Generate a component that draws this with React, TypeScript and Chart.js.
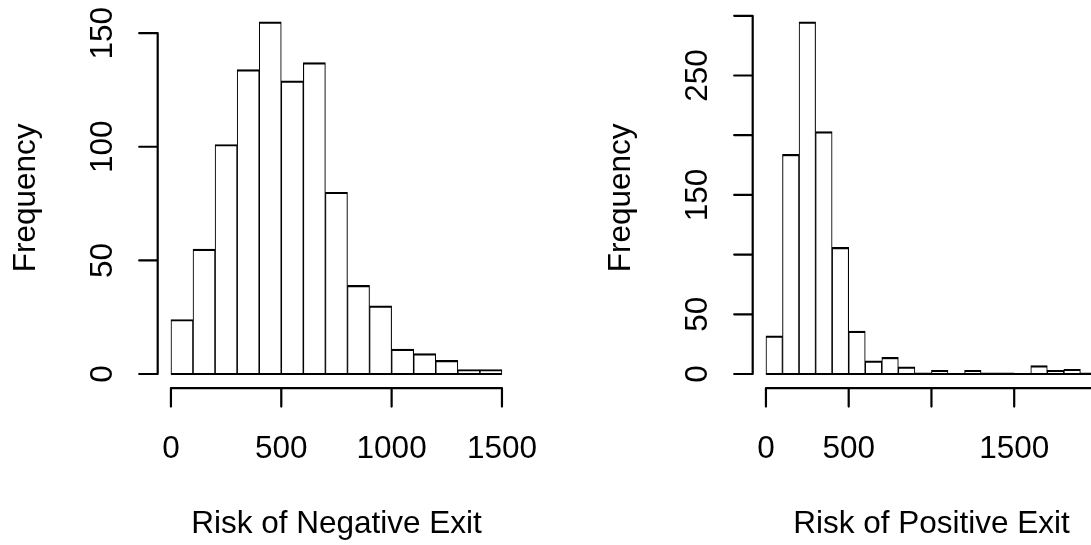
import React, { useEffect, useRef } from 'react';
import { Chart, registerables } from 'chart.js';

Chart.register(...registerables);

// ---- data ----
const binWidth = 100;
const negBreakStart = 0;
const negCounts = [24, 55, 101, 134, 155, 129, 137, 80, 39, 30, 11, 9, 6, 2, 2];
const posBreakStart = 0;
const posCounts = [32, 184, 295, 203, 106, 36, 11, 14, 6, 1, 3, 0, 3, 1, 1, 0, 7, 3, 4, 1];

const negXTicks = [0, 500, 1000, 1500];
const negXLabels = ['0', '500', '1000', '1500'];
const negYTicks = [0, 50, 100, 150];
const negYLabels = ['0', '50', '100', '150'];

const posXTicks = [0, 500, 1000, 1500, 2000];
const posXLabels = ['0', '500', '', '1500', ''];
const posYTicks = [0, 50, 100, 150, 200, 250, 300];
const posYLabels = ['0', '50', '', '150', '', '250', ''];

const negTitle = 'Risk of Negative Exit';
const posTitle = 'Risk of Positive Exit';
const yTitle = 'Frequency';

const FONT = '31.5px "Liberation Sans", Arial, Helvetica, sans-serif';
const LINE_W = 2.2;

type PanelSpec = {
  counts: number[];
  breakStart: number;
  xTicks: number[];
  xLabels: string[];
  yTicks: number[];
  yLabels: string[];
  xTitle: string;
  canvasWidth: number;
  padLeft: number;
  padRight: number;
};

const panels: PanelSpec[] = [
  {
    counts: negCounts,
    breakStart: negBreakStart,
    xTicks: negXTicks,
    xLabels: negXLabels,
    yTicks: negYTicks,
    yLabels: negYLabels,
    xTitle: negTitle,
    canvasWidth: 1091,
    padLeft: 157.7,
    padRight: 1091 - 515.2,
  },
  {
    counts: posCounts,
    breakStart: posBreakStart,
    xTicks: posXTicks,
    xLabels: posXLabels,
    yTicks: posYTicks,
    yLabels: posYLabels,
    xTitle: posTitle,
    canvasWidth: 1200,
    padLeft: 752.7,
    padRight: 1200 - 1110.2,
  },
];

const PAD_TOP = 7.7;
const PAD_BOTTOM = 545 - 388.1;
const TICK_LEN = 18.5;

function makeAxesPlugin(spec: PanelSpec) {
  return {
    id: 'rStyleAxes',
    afterDraw(chart: any) {
      const { ctx, chartArea, scales } = chart;
      const xs = scales.x;
      const ys = scales.y;
      const L = chartArea.left;
      const B = chartArea.bottom;
      ctx.save();
      ctx.strokeStyle = '#000';
      ctx.fillStyle = '#000';
      ctx.lineWidth = LINE_W;
      ctx.lineCap = 'round';

      // y axis
      ctx.beginPath();
      ctx.moveTo(L, ys.getPixelForValue(spec.yTicks[0]));
      ctx.lineTo(L, ys.getPixelForValue(spec.yTicks[spec.yTicks.length - 1]));
      spec.yTicks.forEach((t) => {
        const py = ys.getPixelForValue(t);
        ctx.moveTo(L - TICK_LEN, py);
        ctx.lineTo(L, py);
      });
      // x axis
      ctx.moveTo(xs.getPixelForValue(spec.xTicks[0]), B);
      ctx.lineTo(xs.getPixelForValue(spec.xTicks[spec.xTicks.length - 1]), B);
      spec.xTicks.forEach((t) => {
        const px = xs.getPixelForValue(t);
        ctx.moveTo(px, B);
        ctx.lineTo(px, B + TICK_LEN);
      });
      ctx.stroke();

      ctx.font = FONT;
      ctx.textAlign = 'center';
      ctx.textBaseline = 'alphabetic';

      // x tick labels
      spec.xTicks.forEach((t, i) => {
        const lab = spec.xLabels[i];
        if (!lab) return;
        ctx.fillText(lab, xs.getPixelForValue(t), B + 70.2);
      });
      // x title
      ctx.fillText(spec.xTitle, (chartArea.left + chartArea.right) / 2, B + 145.2);

      // y tick labels (rotated)
      spec.yTicks.forEach((t, i) => {
        const lab = spec.yLabels[i];
        if (!lab) return;
        ctx.save();
        ctx.translate(L - 45.6, ys.getPixelForValue(t));
        ctx.rotate(-Math.PI / 2);
        ctx.fillText(lab, 0, 0);
        ctx.restore();
      });
      // y title
      ctx.save();
      ctx.translate(L - 123, (chartArea.top + chartArea.bottom) / 2);
      ctx.rotate(-Math.PI / 2);
      ctx.fillText(yTitle, 0, 0);
      ctx.restore();

      ctx.restore();
    },
  };
}

function buildChart(canvas: HTMLCanvasElement, spec: PanelSpec) {
  const n = spec.counts.length;
  const firstBreak = spec.breakStart;
  const lastBreak = spec.breakStart + n * binWidth;
  const maxCount = Math.max(...spec.counts);
  const xPad = 0.04 * (lastBreak - firstBreak);
  const yPad = 0.04 * maxCount;

  const barData = spec.counts.map((c, i) => ({
    x: spec.breakStart + i * binWidth + binWidth / 2,
    y: c,
  }));

  return new Chart(canvas, {
    type: 'bar',
    data: {
      datasets: [
        {
          type: 'bar',
          data: barData as any,
          backgroundColor: '#ffffff',
          borderColor: '#000000',
          borderWidth: { top: LINE_W, left: LINE_W / 2, right: LINE_W / 2, bottom: 0 } as any,
          borderSkipped: false as any,
          barPercentage: 1,
          categoryPercentage: 1,
          order: 1,
        } as any,
        {
          type: 'line',
          data: [
            { x: firstBreak, y: 0 },
            { x: lastBreak, y: 0 },
          ] as any,
          borderColor: '#000000',
          borderWidth: LINE_W,
          pointRadius: 0,
          fill: false,
          order: 0,
        } as any,
      ],
    },
    options: {
      responsive: false,
      animation: false,
      devicePixelRatio: 1,
      events: [],
      layout: {
        padding: {
          left: spec.padLeft,
          right: spec.padRight,
          top: PAD_TOP,
          bottom: PAD_BOTTOM,
        },
      },
      plugins: {
        legend: { display: false },
        tooltip: { enabled: false },
      },
      scales: {
        x: {
          type: 'linear',
          offset: false,
          min: firstBreak - xPad,
          max: lastBreak + xPad,
          display: false,
        },
        y: {
          type: 'linear',
          min: -yPad,
          max: maxCount + yPad,
          display: false,
        },
      },
    },
    plugins: [makeAxesPlugin(spec)],
  });
}

export default function App() {
  const leftRef = useRef<HTMLCanvasElement>(null);
  const rightRef = useRef<HTMLCanvasElement>(null);

  useEffect(() => {
    const charts: Chart[] = [];
    if (leftRef.current) charts.push(buildChart(leftRef.current, panels[0]));
    if (rightRef.current) charts.push(buildChart(rightRef.current, panels[1]));
    return () => {
      charts.forEach((c) => c.destroy());
    };
  }, []);

  return (
    <div
      style={{
        position: 'fixed',
        left: 0,
        top: 0,
        width: 1091,
        height: 545,
        overflow: 'hidden',
        background: '#ffffff',
      }}
    >
      <canvas
        ref={leftRef}
        width={panels[0].canvasWidth}
        height={545}
        style={{ position: 'absolute', left: 0, top: 0 }}
      />
      <canvas
        ref={rightRef}
        width={panels[1].canvasWidth}
        height={545}
        style={{ position: 'absolute', left: 0, top: 0 }}
      />
    </div>
  );
}
